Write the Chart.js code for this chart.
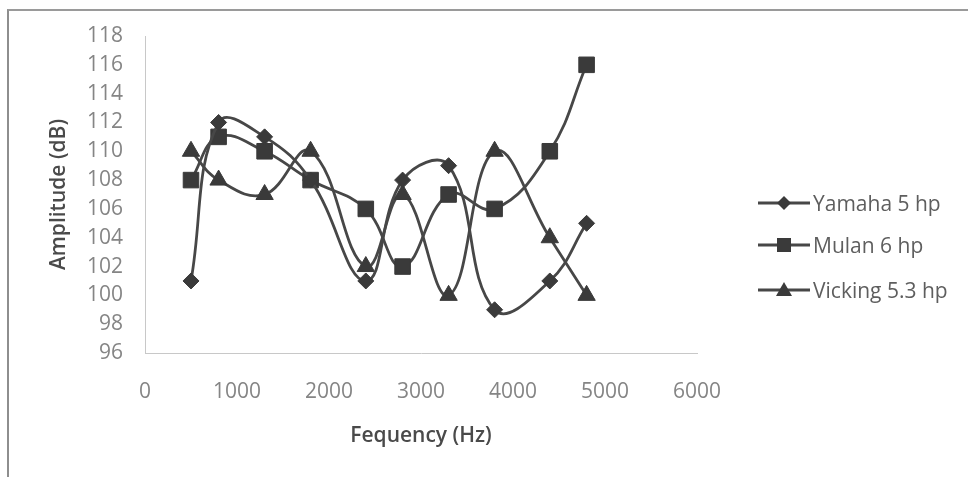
<!DOCTYPE html>
<html><head><meta charset="utf-8">
<script src="https://cdn.jsdelivr.net/npm/chart.js@4/dist/chart.umd.min.js"></script>
<style>
body{margin:0;background:#fff;}
#wrap{position:relative;width:968px;height:477px;overflow:hidden;}
#frame{position:absolute;left:7px;top:9px;width:1000px;height:500px;border-left:2px solid #8e8e8e;border-top:2px solid #9a9a9a;}
canvas{position:absolute;left:0;top:0;}
#legend{position:absolute;left:758px;top:0;font-family:"Open Sans",sans-serif;font-size:21px;color:#5e5e5e;}
.item{position:absolute;left:0;white-space:nowrap;display:flex;align-items:center;}
.item span{margin-left:3px;}
</style></head>
<body><div id="wrap"><div id="frame"></div><canvas id="c" width="968" height="477"></canvas><div id="legend"></div></div>
<script>
const freq = [500, 800, 1300, 1800, 2400, 2800, 3300, 3800, 4400, 4800];
const yamaha = [101, 112, 111, 108, 101, 108, 109, 99, 101, 105];
const mulan = [108, 111, 110, 108, 106, 102, 107, 106, 110, 116];
const vicking = [110, 108, 107, 110, 102, 107, 100, 110, 104, 100];
const seriesNames = ["Yamaha 5 hp", "Mulan 6 hp", "Vicking 5.3 hp"];
const xTicks = [0, 1000, 2000, 3000, 4000, 5000, 6000];
const yTicks = [96, 98, 100, 102, 104, 106, 108, 110, 112, 114, 116, 118];

const lineCol = '#474747', markCol = '#3a3a3a';
function pts(vals){ return freq.map((f,i)=>({x:f,y:vals[i]})); }
function ds(label, vals, style, r){
  return {label, data: pts(vals), showLine:true, tension:0.42, borderColor:lineCol, borderWidth:2.8,
    pointStyle:style, pointRadius:r, pointHoverRadius:r, pointBackgroundColor:markCol, pointBorderColor:markCol, pointBorderWidth:1};
}
new Chart(document.getElementById('c'), {
  type:'scatter',
  data:{datasets:[ds(seriesNames[0], yamaha,'rectRot',8), ds(seriesNames[1], mulan,'rect',11), ds(seriesNames[2], vicking,'triangle',10)]},
  options:{
    responsive:false, animation:false,
    layout:{padding:{left:42,right:271,top:36,bottom:24}},
    plugins:{legend:{display:false}, tooltip:{enabled:false}},
    scales:{
      x:{type:'linear', min:0, max:6000,
        afterBuildTicks:(s)=>{s.ticks = xTicks.map(v=>({value:v}));},
        afterFit:(s)=>{s.height=100;},
        grid:{display:false, drawTicks:false},
        border:{display:true, color:'#c8c8c8', width:1, dash:[2,1]},
        ticks:{padding:26, color:'#858585', font:{family:'"Open Sans"', size:21}, maxRotation:0, callback:(v)=>String(v)},
        title:{display:true, text:'Fequency (Hz)', color:'#4a4a4a', font:{family:'"Open Sans"', size:21, weight:'600'}}
      },
      y:{min:96, max:118,
        afterBuildTicks:(s)=>{s.ticks = yTicks.map(v=>({value:v}));},
        afterFit:(s)=>{s.width=103;},
        grid:{display:false, drawTicks:false},
        border:{display:true, color:'#c8c8c8', width:1},
        ticks:{padding:22, color:'#858585', font:{family:'"Open Sans"', size:21}, callback:(v)=>String(v)},
        title:{display:true, text:'Amplitude (dB)', color:'#4a4a4a', font:{family:'"Open Sans"', size:21, weight:'600'}}
      }
    }
  }
});
const shapes = [
  '<polygon points="26,3 33,10 26,17 19,10" fill="'+markCol+'"/>',
  '<rect x="19" y="3" width="14" height="14" fill="'+markCol+'"/>',
  '<polygon points="26,2 34,16 18,16" fill="'+markCol+'"/>'
];
const tops = [189, 231, 276];
const lg = document.getElementById('legend');
seriesNames.forEach((n,i)=>{
  const d = document.createElement('div'); d.className='item'; d.style.top = tops[i]+'px';
  d.innerHTML = '<svg width="52" height="20"><line x1="0" y1="10" x2="52" y2="10" stroke="'+lineCol+'" stroke-width="3"/>'+shapes[i]+'</svg><span>'+n+'</span>';
  lg.appendChild(d);
});
</script></body></html>
